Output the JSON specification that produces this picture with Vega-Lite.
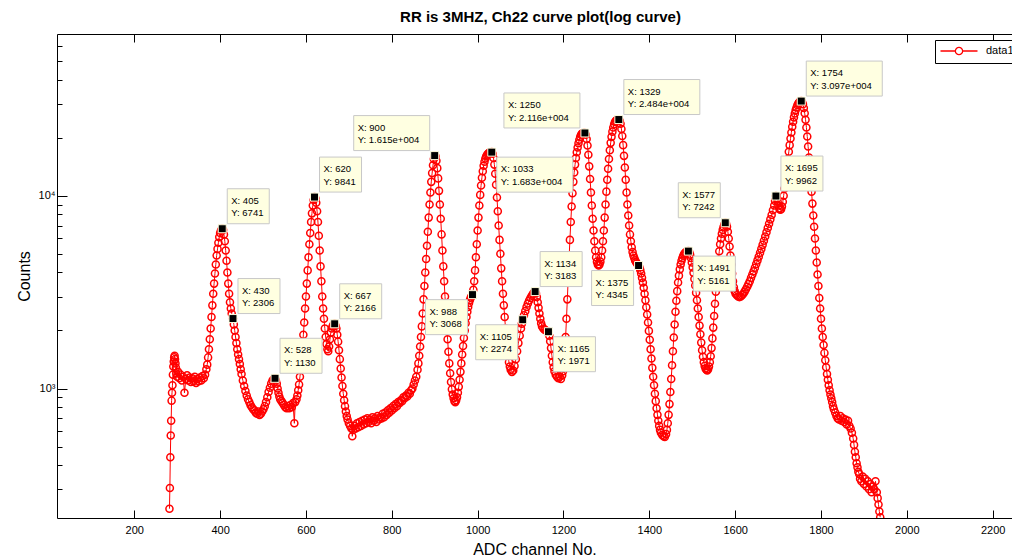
{
  "$schema": "https://vega.github.io/schema/vega-lite/v6.json",
  "autosize": {"type": "none"},
  "padding": {"left": 57, "top": 34, "right": 0, "bottom": 38},
  "width": 955,
  "height": 484,
  "background": "white",
  "title": {"text": "RR is 3MHZ, Ch22 curve plot(log curve)", "font": "Liberation Sans", "fontSize": 15, "fontWeight": "bold", "color": "black", "offset": 9, "dx": 6, "anchor": "middle"},
  "datasets": {
    "counts": [
      {"ch":282,"n":238},{"ch":283,"n":305},{"ch":284,"n":440},{"ch":285,"n":570},{"ch":286,"n":680},{"ch":287,"n":865},{"ch":288,"n":950},{"ch":289,"n":1040},{"ch":290,"n":1180},{"ch":291,"n":1300},{"ch":292,"n":1380},{"ch":293,"n":1450},{"ch":294,"n":1480},{"ch":295,"n":1420},{"ch":296,"n":1350},{"ch":297,"n":1280},{"ch":298,"n":1200},{"ch":300,"n":1150},{"ch":302,"n":1220},{"ch":305,"n":1130},{"ch":308,"n":1180},{"ch":311,"n":1100},{"ch":314,"n":1150},{"ch":317,"n":950},{"ch":320,"n":1120},{"ch":323,"n":1170},{"ch":326,"n":1100},{"ch":329,"n":1140},{"ch":332,"n":1080},{"ch":335,"n":1130},{"ch":338,"n":1090},{"ch":341,"n":1150},{"ch":344,"n":1070},{"ch":347,"n":1120},{"ch":350,"n":1090},{"ch":353,"n":1140},{"ch":356,"n":1100},{"ch":359,"n":1160},{"ch":362,"n":1130},{"ch":365,"n":1180},{"ch":368,"n":1260},{"ch":370,"n":1330},{"ch":372,"n":1450},{"ch":374,"n":1600},{"ch":376,"n":1800},{"ch":378,"n":2050},{"ch":380,"n":2350},{"ch":382,"n":2700},{"ch":384,"n":3100},{"ch":386,"n":3500},{"ch":388,"n":3950},{"ch":390,"n":4400},{"ch":392,"n":4900},{"ch":394,"n":5300},{"ch":396,"n":5700},{"ch":398,"n":6100},{"ch":400,"n":6400},{"ch":402,"n":6600},{"ch":404,"n":6700},{"ch":405,"n":6741},{"ch":407,"n":6650},{"ch":409,"n":6300},{"ch":411,"n":5800},{"ch":413,"n":5200},{"ch":415,"n":4600},{"ch":417,"n":4000},{"ch":419,"n":3500},{"ch":421,"n":3100},{"ch":423,"n":2800},{"ch":425,"n":2600},{"ch":427,"n":2450},{"ch":430,"n":2306},{"ch":432,"n":2150},{"ch":434,"n":2000},{"ch":436,"n":1850},{"ch":438,"n":1720},{"ch":440,"n":1600},{"ch":442,"n":1500},{"ch":444,"n":1420},{"ch":446,"n":1340},{"ch":448,"n":1260},{"ch":450,"n":1190},{"ch":453,"n":1100},{"ch":456,"n":1030},{"ch":459,"n":970},{"ch":462,"n":920},{"ch":465,"n":880},{"ch":468,"n":850},{"ch":471,"n":820},{"ch":474,"n":800},{"ch":477,"n":780},{"ch":480,"n":770},{"ch":483,"n":750},{"ch":486,"n":740},{"ch":489,"n":760},{"ch":492,"n":730},{"ch":495,"n":740},{"ch":498,"n":760},{"ch":501,"n":780},{"ch":504,"n":810},{"ch":507,"n":850},{"ch":510,"n":900},{"ch":513,"n":960},{"ch":516,"n":1010},{"ch":519,"n":1060},{"ch":522,"n":1100},{"ch":525,"n":1120},{"ch":528,"n":1130},{"ch":530,"n":1100},{"ch":532,"n":1060},{"ch":534,"n":1000},{"ch":536,"n":950},{"ch":538,"n":910},{"ch":540,"n":880},{"ch":543,"n":860},{"ch":546,"n":840},{"ch":549,"n":820},{"ch":552,"n":800},{"ch":555,"n":790},{"ch":558,"n":810},{"ch":561,"n":790},{"ch":564,"n":820},{"ch":567,"n":800},{"ch":570,"n":840},{"ch":573,"n":660},{"ch":575,"n":850},{"ch":578,"n":880},{"ch":580,"n":920},{"ch":582,"n":980},{"ch":584,"n":1050},{"ch":586,"n":1150},{"ch":588,"n":1280},{"ch":590,"n":1450},{"ch":592,"n":1650},{"ch":594,"n":1900},{"ch":596,"n":2200},{"ch":598,"n":2600},{"ch":600,"n":3000},{"ch":602,"n":3500},{"ch":604,"n":4100},{"ch":606,"n":4800},{"ch":608,"n":5600},{"ch":610,"n":6400},{"ch":612,"n":7300},{"ch":614,"n":8100},{"ch":616,"n":8900},{"ch":618,"n":9500},{"ch":620,"n":9841},{"ch":622,"n":9700},{"ch":624,"n":9200},{"ch":626,"n":8300},{"ch":628,"n":7300},{"ch":630,"n":6200},{"ch":632,"n":5200},{"ch":634,"n":4300},{"ch":636,"n":3600},{"ch":638,"n":3000},{"ch":640,"n":2600},{"ch":642,"n":2300},{"ch":644,"n":2050},{"ch":646,"n":1850},{"ch":648,"n":1700},{"ch":650,"n":1600},{"ch":652,"n":1560},{"ch":654,"n":1650},{"ch":656,"n":1800},{"ch":658,"n":1950},{"ch":660,"n":2050},{"ch":662,"n":2100},{"ch":664,"n":2150},{"ch":667,"n":2166},{"ch":669,"n":2120},{"ch":671,"n":2050},{"ch":673,"n":1900},{"ch":675,"n":1750},{"ch":677,"n":1580},{"ch":679,"n":1420},{"ch":681,"n":1270},{"ch":683,"n":1140},{"ch":685,"n":1030},{"ch":687,"n":940},{"ch":689,"n":870},{"ch":691,"n":810},{"ch":693,"n":760},{"ch":695,"n":720},{"ch":697,"n":690},{"ch":700,"n":660},{"ch":703,"n":640},{"ch":706,"n":620},{"ch":708,"n":565},{"ch":710,"n":610},{"ch":713,"n":640},{"ch":716,"n":620},{"ch":719,"n":660},{"ch":722,"n":630},{"ch":725,"n":670},{"ch":728,"n":640},{"ch":731,"n":680},{"ch":734,"n":650},{"ch":737,"n":690},{"ch":740,"n":660},{"ch":743,"n":700},{"ch":746,"n":670},{"ch":749,"n":690},{"ch":752,"n":660},{"ch":755,"n":710},{"ch":758,"n":680},{"ch":761,"n":700},{"ch":764,"n":670},{"ch":767,"n":720},{"ch":770,"n":690},{"ch":773,"n":710},{"ch":776,"n":700},{"ch":779,"n":740},{"ch":782,"n":710},{"ch":785,"n":750},{"ch":788,"n":730},{"ch":791,"n":770},{"ch":794,"n":750},{"ch":797,"n":790},{"ch":800,"n":770},{"ch":803,"n":810},{"ch":806,"n":790},{"ch":809,"n":830},{"ch":812,"n":810},{"ch":815,"n":850},{"ch":818,"n":840},{"ch":821,"n":870},{"ch":824,"n":860},{"ch":827,"n":900},{"ch":830,"n":890},{"ch":833,"n":920},{"ch":836,"n":910},{"ch":839,"n":950},{"ch":842,"n":940},{"ch":845,"n":980},{"ch":848,"n":1000},{"ch":851,"n":1050},{"ch":854,"n":1100},{"ch":857,"n":1150},{"ch":860,"n":1250},{"ch":862,"n":1350},{"ch":864,"n":1480},{"ch":866,"n":1650},{"ch":868,"n":1850},{"ch":870,"n":2100},{"ch":872,"n":2450},{"ch":874,"n":2900},{"ch":876,"n":3400},{"ch":878,"n":4000},{"ch":880,"n":4700},{"ch":882,"n":5500},{"ch":884,"n":6500},{"ch":886,"n":7700},{"ch":888,"n":9000},{"ch":890,"n":10400},{"ch":892,"n":11800},{"ch":894,"n":13100},{"ch":896,"n":14400},{"ch":898,"n":15500},{"ch":900,"n":16150},{"ch":902,"n":16000},{"ch":904,"n":15200},{"ch":906,"n":13900},{"ch":908,"n":12300},{"ch":910,"n":10600},{"ch":912,"n":9000},{"ch":914,"n":7600},{"ch":916,"n":6300},{"ch":918,"n":5200},{"ch":920,"n":4300},{"ch":922,"n":3600},{"ch":924,"n":3000},{"ch":926,"n":2500},{"ch":928,"n":2100},{"ch":930,"n":1800},{"ch":932,"n":1550},{"ch":934,"n":1350},{"ch":936,"n":1200},{"ch":938,"n":1080},{"ch":940,"n":990},{"ch":942,"n":930},{"ch":944,"n":890},{"ch":946,"n":860},{"ch":948,"n":850},{"ch":950,"n":870},{"ch":952,"n":900},{"ch":954,"n":950},{"ch":956,"n":1020},{"ch":958,"n":1110},{"ch":960,"n":1220},{"ch":962,"n":1350},{"ch":964,"n":1500},{"ch":966,"n":1660},{"ch":968,"n":1830},{"ch":970,"n":2000},{"ch":972,"n":2180},{"ch":974,"n":2350},{"ch":976,"n":2500},{"ch":978,"n":2650},{"ch":980,"n":2780},{"ch":982,"n":2880},{"ch":984,"n":2960},{"ch":986,"n":3020},{"ch":988,"n":3068},{"ch":990,"n":3250},{"ch":992,"n":3600},{"ch":994,"n":4100},{"ch":996,"n":4800},{"ch":998,"n":5600},{"ch":1000,"n":6600},{"ch":1002,"n":7700},{"ch":1004,"n":8900},{"ch":1006,"n":10100},{"ch":1008,"n":11300},{"ch":1010,"n":12400},{"ch":1012,"n":13400},{"ch":1014,"n":14300},{"ch":1016,"n":15000},{"ch":1018,"n":15600},{"ch":1020,"n":16000},{"ch":1022,"n":16300},{"ch":1024,"n":16500},{"ch":1026,"n":16650},{"ch":1028,"n":16750},{"ch":1030,"n":16800},{"ch":1033,"n":16830},{"ch":1035,"n":16500},{"ch":1037,"n":15700},{"ch":1039,"n":14500},{"ch":1041,"n":13000},{"ch":1043,"n":11400},{"ch":1045,"n":9800},{"ch":1047,"n":8300},{"ch":1049,"n":7000},{"ch":1051,"n":5900},{"ch":1053,"n":5000},{"ch":1055,"n":4200},{"ch":1057,"n":3600},{"ch":1059,"n":3100},{"ch":1061,"n":2700},{"ch":1063,"n":2350},{"ch":1065,"n":2050},{"ch":1067,"n":1800},{"ch":1069,"n":1620},{"ch":1071,"n":1480},{"ch":1073,"n":1370},{"ch":1075,"n":1300},{"ch":1077,"n":1250},{"ch":1080,"n":1220},{"ch":1083,"n":1240},{"ch":1086,"n":1310},{"ch":1089,"n":1420},{"ch":1092,"n":1560},{"ch":1095,"n":1720},{"ch":1098,"n":1880},{"ch":1101,"n":2050},{"ch":1103,"n":2170},{"ch":1105,"n":2274},{"ch":1108,"n":2400},{"ch":1111,"n":2520},{"ch":1114,"n":2650},{"ch":1117,"n":2760},{"ch":1120,"n":2860},{"ch":1123,"n":2950},{"ch":1126,"n":3030},{"ch":1129,"n":3100},{"ch":1131,"n":3150},{"ch":1134,"n":3183},{"ch":1136,"n":3120},{"ch":1138,"n":2980},{"ch":1140,"n":2800},{"ch":1142,"n":2620},{"ch":1144,"n":2450},{"ch":1146,"n":2300},{"ch":1148,"n":2180},{"ch":1150,"n":2100},{"ch":1153,"n":2050},{"ch":1156,"n":2020},{"ch":1159,"n":2000},{"ch":1162,"n":1985},{"ch":1165,"n":1971},{"ch":1167,"n":1880},{"ch":1169,"n":1760},{"ch":1171,"n":1620},{"ch":1173,"n":1480},{"ch":1175,"n":1370},{"ch":1177,"n":1290},{"ch":1179,"n":1230},{"ch":1182,"n":1180},{"ch":1185,"n":1150},{"ch":1188,"n":1130},{"ch":1191,"n":1150},{"ch":1194,"n":1120},{"ch":1197,"n":1170},{"ch":1199,"n":1230},{"ch":1201,"n":1350},{"ch":1203,"n":1550},{"ch":1205,"n":1850},{"ch":1207,"n":2300},{"ch":1209,"n":2900},{"ch":1211,"n":3700},{"ch":1213,"n":4700},{"ch":1215,"n":5900},{"ch":1217,"n":7300},{"ch":1219,"n":8800},{"ch":1221,"n":10300},{"ch":1223,"n":11800},{"ch":1225,"n":13200},{"ch":1227,"n":14500},{"ch":1229,"n":15700},{"ch":1231,"n":16800},{"ch":1233,"n":17800},{"ch":1235,"n":18700},{"ch":1237,"n":19500},{"ch":1239,"n":20200},{"ch":1241,"n":20700},{"ch":1243,"n":21000},{"ch":1245,"n":21100},{"ch":1247,"n":21150},{"ch":1250,"n":21160},{"ch":1252,"n":20700},{"ch":1254,"n":19700},{"ch":1256,"n":18200},{"ch":1258,"n":16300},{"ch":1260,"n":14200},{"ch":1262,"n":12200},{"ch":1264,"n":10400},{"ch":1266,"n":8900},{"ch":1268,"n":7600},{"ch":1270,"n":6600},{"ch":1272,"n":5800},{"ch":1274,"n":5200},{"ch":1276,"n":4800},{"ch":1278,"n":4550},{"ch":1280,"n":4400},{"ch":1282,"n":4350},{"ch":1284,"n":4400},{"ch":1286,"n":4550},{"ch":1288,"n":4800},{"ch":1290,"n":5200},{"ch":1292,"n":5800},{"ch":1294,"n":6600},{"ch":1296,"n":7700},{"ch":1298,"n":9000},{"ch":1300,"n":10500},{"ch":1302,"n":12100},{"ch":1304,"n":13800},{"ch":1306,"n":15500},{"ch":1308,"n":17200},{"ch":1310,"n":18800},{"ch":1312,"n":20200},{"ch":1314,"n":21500},{"ch":1316,"n":22600},{"ch":1318,"n":23500},{"ch":1320,"n":24100},{"ch":1322,"n":24500},{"ch":1324,"n":24700},{"ch":1326,"n":24800},{"ch":1329,"n":24840},{"ch":1331,"n":24500},{"ch":1333,"n":23600},{"ch":1335,"n":22200},{"ch":1337,"n":20400},{"ch":1339,"n":18300},{"ch":1341,"n":16100},{"ch":1343,"n":14000},{"ch":1345,"n":12100},{"ch":1347,"n":10400},{"ch":1349,"n":9000},{"ch":1351,"n":7900},{"ch":1353,"n":7000},{"ch":1355,"n":6300},{"ch":1357,"n":5800},{"ch":1359,"n":5400},{"ch":1361,"n":5100},{"ch":1363,"n":4900},{"ch":1365,"n":4750},{"ch":1367,"n":4620},{"ch":1369,"n":4530},{"ch":1371,"n":4460},{"ch":1373,"n":4400},{"ch":1375,"n":4345},{"ch":1377,"n":4250},{"ch":1379,"n":4120},{"ch":1381,"n":3950},{"ch":1383,"n":3750},{"ch":1385,"n":3550},{"ch":1387,"n":3330},{"ch":1389,"n":3100},{"ch":1391,"n":2870},{"ch":1393,"n":2640},{"ch":1395,"n":2420},{"ch":1397,"n":2200},{"ch":1399,"n":1990},{"ch":1401,"n":1790},{"ch":1403,"n":1600},{"ch":1405,"n":1430},{"ch":1407,"n":1280},{"ch":1409,"n":1150},{"ch":1411,"n":1040},{"ch":1413,"n":940},{"ch":1415,"n":860},{"ch":1417,"n":790},{"ch":1419,"n":730},{"ch":1421,"n":680},{"ch":1423,"n":640},{"ch":1425,"n":610},{"ch":1427,"n":590},{"ch":1430,"n":575},{"ch":1433,"n":565},{"ch":1436,"n":560},{"ch":1439,"n":580},{"ch":1441,"n":610},{"ch":1443,"n":660},{"ch":1445,"n":730},{"ch":1447,"n":830},{"ch":1449,"n":960},{"ch":1451,"n":1120},{"ch":1453,"n":1320},{"ch":1455,"n":1560},{"ch":1457,"n":1840},{"ch":1459,"n":2150},{"ch":1461,"n":2500},{"ch":1463,"n":2850},{"ch":1465,"n":3200},{"ch":1467,"n":3550},{"ch":1469,"n":3850},{"ch":1471,"n":4150},{"ch":1473,"n":4400},{"ch":1475,"n":4600},{"ch":1477,"n":4750},{"ch":1479,"n":4880},{"ch":1481,"n":4980},{"ch":1483,"n":5050},{"ch":1485,"n":5100},{"ch":1488,"n":5140},{"ch":1491,"n":5161},{"ch":1493,"n":5100},{"ch":1495,"n":4950},{"ch":1497,"n":4750},{"ch":1499,"n":4500},{"ch":1501,"n":4250},{"ch":1503,"n":3980},{"ch":1505,"n":3700},{"ch":1507,"n":3420},{"ch":1509,"n":3140},{"ch":1511,"n":2870},{"ch":1513,"n":2600},{"ch":1515,"n":2350},{"ch":1517,"n":2120},{"ch":1519,"n":1910},{"ch":1521,"n":1730},{"ch":1523,"n":1580},{"ch":1525,"n":1460},{"ch":1527,"n":1370},{"ch":1529,"n":1310},{"ch":1531,"n":1270},{"ch":1533,"n":1250},{"ch":1535,"n":1240},{"ch":1537,"n":1260},{"ch":1539,"n":1300},{"ch":1541,"n":1370},{"ch":1543,"n":1470},{"ch":1545,"n":1620},{"ch":1547,"n":1820},{"ch":1549,"n":2070},{"ch":1551,"n":2380},{"ch":1553,"n":2750},{"ch":1555,"n":3180},{"ch":1557,"n":3650},{"ch":1559,"n":4150},{"ch":1561,"n":4650},{"ch":1563,"n":5150},{"ch":1565,"n":5600},{"ch":1567,"n":6000},{"ch":1569,"n":6350},{"ch":1571,"n":6650},{"ch":1573,"n":6900},{"ch":1575,"n":7100},{"ch":1577,"n":7242},{"ch":1579,"n":7150},{"ch":1581,"n":6900},{"ch":1583,"n":6500},{"ch":1585,"n":6000},{"ch":1587,"n":5450},{"ch":1589,"n":4900},{"ch":1591,"n":4400},{"ch":1593,"n":3950},{"ch":1595,"n":3600},{"ch":1597,"n":3350},{"ch":1599,"n":3200},{"ch":1601,"n":3100},{"ch":1604,"n":3050},{"ch":1607,"n":3000},{"ch":1610,"n":2980},{"ch":1613,"n":3000},{"ch":1616,"n":3050},{"ch":1619,"n":3100},{"ch":1622,"n":3180},{"ch":1625,"n":3270},{"ch":1628,"n":3370},{"ch":1631,"n":3480},{"ch":1634,"n":3600},{"ch":1637,"n":3750},{"ch":1640,"n":3900},{"ch":1643,"n":4060},{"ch":1646,"n":4230},{"ch":1649,"n":4420},{"ch":1652,"n":4620},{"ch":1655,"n":4830},{"ch":1658,"n":5060},{"ch":1661,"n":5300},{"ch":1664,"n":5560},{"ch":1667,"n":5840},{"ch":1670,"n":6140},{"ch":1673,"n":6460},{"ch":1676,"n":6800},{"ch":1679,"n":7160},{"ch":1682,"n":7540},{"ch":1685,"n":7950},{"ch":1688,"n":8400},{"ch":1691,"n":8900},{"ch":1693,"n":9400},{"ch":1695,"n":9962},{"ch":1697,"n":9700},{"ch":1699,"n":9300},{"ch":1701,"n":8900},{"ch":1703,"n":8600},{"ch":1705,"n":8450},{"ch":1707,"n":8500},{"ch":1709,"n":8800},{"ch":1711,"n":9300},{"ch":1713,"n":10000},{"ch":1715,"n":10900},{"ch":1717,"n":11900},{"ch":1719,"n":13000},{"ch":1721,"n":14200},{"ch":1723,"n":15500},{"ch":1725,"n":16900},{"ch":1727,"n":18300},{"ch":1729,"n":19800},{"ch":1731,"n":21300},{"ch":1733,"n":22800},{"ch":1735,"n":24200},{"ch":1737,"n":25500},{"ch":1739,"n":26700},{"ch":1741,"n":27800},{"ch":1743,"n":28700},{"ch":1745,"n":29500},{"ch":1747,"n":30100},{"ch":1749,"n":30500},{"ch":1751,"n":30800},{"ch":1754,"n":30970},{"ch":1756,"n":30600},{"ch":1758,"n":29800},{"ch":1760,"n":28500},{"ch":1762,"n":26800},{"ch":1764,"n":24800},{"ch":1766,"n":22600},{"ch":1768,"n":20300},{"ch":1770,"n":18000},{"ch":1772,"n":15800},{"ch":1774,"n":13800},{"ch":1776,"n":12000},{"ch":1778,"n":10500},{"ch":1780,"n":9100},{"ch":1782,"n":7900},{"ch":1784,"n":6900},{"ch":1786,"n":6000},{"ch":1788,"n":5200},{"ch":1790,"n":4500},{"ch":1792,"n":3900},{"ch":1794,"n":3400},{"ch":1796,"n":2950},{"ch":1798,"n":2600},{"ch":1800,"n":2300},{"ch":1802,"n":2050},{"ch":1804,"n":1850},{"ch":1806,"n":1680},{"ch":1808,"n":1530},{"ch":1810,"n":1400},{"ch":1812,"n":1290},{"ch":1814,"n":1190},{"ch":1816,"n":1110},{"ch":1818,"n":1040},{"ch":1820,"n":980},{"ch":1822,"n":930},{"ch":1824,"n":890},{"ch":1826,"n":850},{"ch":1828,"n":810},{"ch":1830,"n":780},{"ch":1833,"n":750},{"ch":1836,"n":720},{"ch":1839,"n":700},{"ch":1842,"n":690},{"ch":1845,"n":720},{"ch":1848,"n":680},{"ch":1851,"n":700},{"ch":1854,"n":670},{"ch":1857,"n":690},{"ch":1860,"n":650},{"ch":1863,"n":680},{"ch":1866,"n":640},{"ch":1869,"n":620},{"ch":1872,"n":590},{"ch":1875,"n":550},{"ch":1877,"n":510},{"ch":1879,"n":470},{"ch":1881,"n":440},{"ch":1883,"n":410},{"ch":1885,"n":390},{"ch":1887,"n":370},{"ch":1889,"n":360},{"ch":1891,"n":340},{"ch":1894,"n":330},{"ch":1897,"n":350},{"ch":1900,"n":320},{"ch":1903,"n":340},{"ch":1906,"n":310},{"ch":1909,"n":330},{"ch":1912,"n":300},{"ch":1915,"n":320},{"ch":1918,"n":290},{"ch":1921,"n":310},{"ch":1924,"n":300},{"ch":1927,"n":330},{"ch":1930,"n":290},{"ch":1932,"n":270},{"ch":1934,"n":250},{"ch":1936,"n":230},{"ch":1938,"n":215}
    ],
    "tips_ne": [
      {"ch":405,"n":6741},{"ch":430,"n":2306},{"ch":528,"n":1130},{"ch":620,"n":9841},{"ch":667,"n":2166},{"ch":1134,"n":3183},{"ch":1329,"n":24840},{"ch":1695,"n":9962},{"ch":1754,"n":30970}
    ],
    "tips_nw": [
      {"ch":900,"n":16150},{"ch":1250,"n":21160},{"ch":1577,"n":7242}
    ],
    "tips_se": [
      {"ch":1033,"n":16830},{"ch":1165,"n":1971},{"ch":1491,"n":5161}
    ],
    "tips_sw": [
      {"ch":988,"n":3068},{"ch":1105,"n":2274},{"ch":1375,"n":4345}
    ]
  },
  "encoding": {
    "x": {"field": "ch", "type": "quantitative", "scale": {"domain": [20, 2245], "nice": false, "zero": false}, "axis": null},
    "y": {"field": "n", "type": "quantitative", "scale": {"type": "log", "domain": [213, 69000], "nice": false}, "axis": null}
  },
  "layer": [
    {
      "data": {"name": "counts"},
      "mark": {"type": "line", "strokeWidth": 1, "clip": true},
      "encoding": {
        "x": {"field": "ch", "type": "quantitative", "scale": {"domain": [20, 2245], "nice": false, "zero": false}, "axis": {"orient": "bottom", "values": [200,400,600,800,1000,1200,1400,1600,1800,2000,2200], "format": "d", "title": "ADC channel No.", "titleFontSize": 16, "titleFontWeight": "normal", "titlePadding": 6, "labelFontSize": 11, "tickSize": -8, "labelPadding": 14}},
        "y": {"field": "n", "type": "quantitative", "scale": {"type": "log", "domain": [213, 69000], "nice": false}, "axis": {"orient": "left", "values": [300,400,500,600,700,800,900,1000,2000,3000,4000,5000,6000,7000,8000,9000,10000,20000,30000,40000,50000,60000], "labelExpr": "datum.value == 1000 ? '10³' : datum.value == 10000 ? '10⁴' : ''", "tickSize": {"condition": {"test": "datum.value == 1000 || datum.value == 10000", "value": -10}, "value": -5}, "labelPadding": 12, "labelFontSize": 11, "title": "Counts", "titleFontSize": 16, "titleFontWeight": "normal", "titlePadding": 6}},
        "color": {"datum": "data1", "type": "nominal", "scale": {"range": ["#ff0000"]}, "legend": {"title": null, "orient": "none", "legendX": 878, "legendY": 6, "padding": 5, "strokeColor": "black", "fillColor": "white", "symbolType": "M-3.7,0L-0.73,0M0.73,0L3.7,0M0.73,0A0.73,0.73,0,1,1,-0.73,0A0.73,0.73,0,1,1,0.73,0", "symbolSize": 100, "symbolOffset": 13, "symbolStrokeWidth": 1.3, "symbolStrokeColor": "#ff0000", "symbolFillColor": "transparent", "labelOffset": 21, "labelFontSize": 11, "labelFont": "Liberation Sans", "labelColor": "black"}}
      }
    },
    {
      "data": {"name": "counts"},
      "mark": {"type": "point", "shape": "circle", "filled": false, "size": 50, "strokeWidth": 1.5, "opacity": 1, "clip": true},
      "encoding": {
        "x": {"field": "ch", "type": "quantitative", "scale": {"domain": [20, 2245], "nice": false, "zero": false}, "axis": {"orient": "top", "values": [200,400,600,800,1000,1200,1400,1600,1800,2000,2200], "labels": false, "title": null, "tickSize": -8}},
        "color": {"datum": "data1", "type": "nominal"}
      }
    },
    {
      "data": {"name": "tips_ne"},
      "mark": {"type": "point", "size": 4, "filled": true, "fill": "#ffffe1", "stroke": "#c8c8c8", "strokeWidth": 1, "opacity": 1},
      "encoding": {"shape": {"condition": {"test": "datum.n >= 10000", "value": "M5,-5L81,-5L81,-40L5,-40Z"}, "value": "M5,-5L47,-5L47,-40L5,-40Z"}}
    },
    {
      "data": {"name": "tips_nw"},
      "mark": {"type": "point", "size": 4, "filled": true, "fill": "#ffffe1", "stroke": "#c8c8c8", "strokeWidth": 1, "opacity": 1},
      "encoding": {"shape": {"condition": {"test": "datum.n >= 10000", "value": "M-5,-5L-81,-5L-81,-40L-5,-40Z"}, "value": "M-5,-5L-47,-5L-47,-40L-5,-40Z"}}
    },
    {
      "data": {"name": "tips_se"},
      "mark": {"type": "point", "size": 4, "filled": true, "fill": "#ffffe1", "stroke": "#c8c8c8", "strokeWidth": 1, "opacity": 1},
      "encoding": {"shape": {"condition": {"test": "datum.n >= 10000", "value": "M5,5L81,5L81,40L5,40Z"}, "value": "M5,5L47,5L47,40L5,40Z"}}
    },
    {
      "data": {"name": "tips_sw"},
      "mark": {"type": "point", "size": 4, "filled": true, "fill": "#ffffe1", "stroke": "#c8c8c8", "strokeWidth": 1, "opacity": 1},
      "encoding": {"shape": {"condition": {"test": "datum.n >= 10000", "value": "M-5,5L-81,5L-81,40L-5,40Z"}, "value": "M-5,5L-47,5L-47,40L-5,40Z"}}
    },
    {
      "data": {"name": "tips_ne"},
      "transform": [{"calculate": "'X: ' + datum.ch + '\\nY: ' + (datum.n >= 10000 ? format(datum.n / 10000, '.3f') + 'e+004' : datum.n)", "as": "tip"}],
      "mark": {"type": "text", "align": "left", "baseline": "alphabetic", "dx": 9, "dy": -25, "lineBreak": "\n", "lineHeight": 12.7, "font": "Liberation Sans", "fontSize": 9.5, "color": "black"},
      "encoding": {"text": {"field": "tip"}}
    },
    {
      "data": {"name": "tips_se"},
      "transform": [{"calculate": "'X: ' + datum.ch + '\\nY: ' + (datum.n >= 10000 ? format(datum.n / 10000, '.3f') + 'e+004' : datum.n)", "as": "tip"}],
      "mark": {"type": "text", "align": "left", "baseline": "alphabetic", "dx": 9, "dy": 20, "lineBreak": "\n", "lineHeight": 12.7, "font": "Liberation Sans", "fontSize": 9.5, "color": "black"},
      "encoding": {"text": {"field": "tip"}}
    },
    {
      "data": {"name": "tips_nw"},
      "transform": [{"filter": "datum.n >= 10000"}, {"calculate": "'X: ' + datum.ch + '\\nY: ' + format(datum.n / 10000, '.3f') + 'e+004'", "as": "tip"}],
      "mark": {"type": "text", "align": "left", "baseline": "alphabetic", "dx": -77, "dy": -25, "lineBreak": "\n", "lineHeight": 12.7, "font": "Liberation Sans", "fontSize": 9.5, "color": "black"},
      "encoding": {"text": {"field": "tip"}}
    },
    {
      "data": {"name": "tips_nw"},
      "transform": [{"filter": "datum.n < 10000"}, {"calculate": "'X: ' + datum.ch + '\\nY: ' + datum.n", "as": "tip"}],
      "mark": {"type": "text", "align": "left", "baseline": "alphabetic", "dx": -43, "dy": -25, "lineBreak": "\n", "lineHeight": 12.7, "font": "Liberation Sans", "fontSize": 9.5, "color": "black"},
      "encoding": {"text": {"field": "tip"}}
    },
    {
      "data": {"name": "tips_sw"},
      "transform": [{"calculate": "'X: ' + datum.ch + '\\nY: ' + datum.n", "as": "tip"}],
      "mark": {"type": "text", "align": "left", "baseline": "alphabetic", "dx": -43, "dy": 20, "lineBreak": "\n", "lineHeight": 12.7, "font": "Liberation Sans", "fontSize": 9.5, "color": "black"},
      "encoding": {"text": {"field": "tip"}}
    },
    {
      "data": {"name": "tips_ne"},
      "mark": {"type": "point", "shape": "square", "size": 64, "filled": true, "fill": "black", "stroke": "#ffffe1", "strokeWidth": 1, "opacity": 1}
    },
    {
      "data": {"name": "tips_nw"},
      "mark": {"type": "point", "shape": "square", "size": 64, "filled": true, "fill": "black", "stroke": "#ffffe1", "strokeWidth": 1, "opacity": 1}
    },
    {
      "data": {"name": "tips_se"},
      "mark": {"type": "point", "shape": "square", "size": 64, "filled": true, "fill": "black", "stroke": "#ffffe1", "strokeWidth": 1, "opacity": 1}
    },
    {
      "data": {"name": "tips_sw"},
      "mark": {"type": "point", "shape": "square", "size": 64, "filled": true, "fill": "black", "stroke": "#ffffe1", "strokeWidth": 1, "opacity": 1}
    }
  ],
  "resolve": {"axis": {"x": "independent", "y": "independent"}},
  "config": {
    "font": "Liberation Sans",
    "view": {"stroke": null},
    "axis": {"grid": false, "domainColor": "black", "domainWidth": 1, "tickColor": "black", "tickWidth": 1, "labelColor": "black", "titleColor": "black", "labelFont": "Liberation Sans", "titleFont": "Liberation Sans"}
  }
}
